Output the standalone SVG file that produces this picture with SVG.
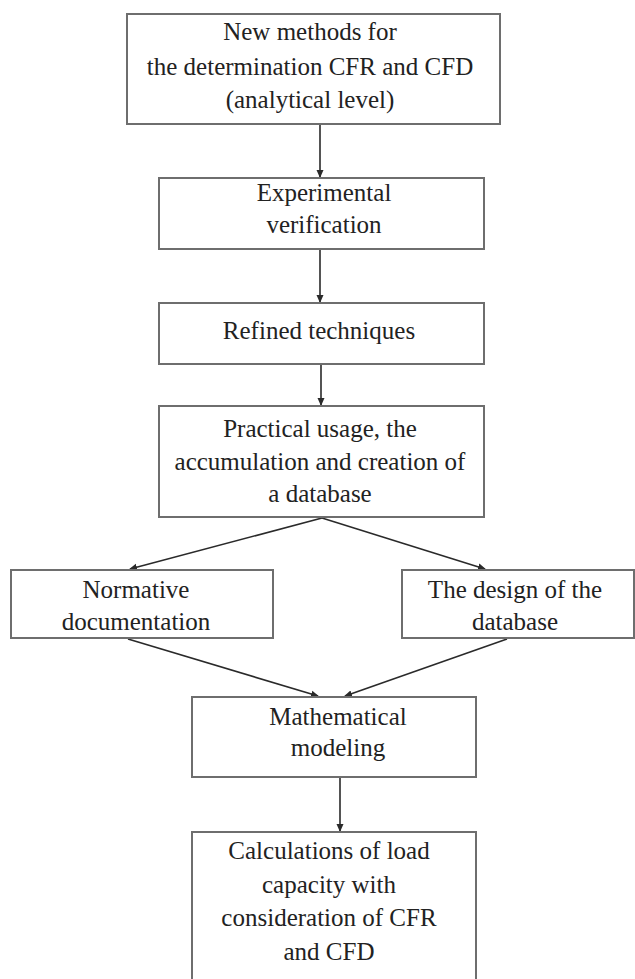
<svg xmlns="http://www.w3.org/2000/svg" width="635" height="979" viewBox="0 0 635 979">
<defs>
<style>
.box{fill:#ffffff;stroke:#6e6e6e;stroke-width:2}
.t{font-family:"Liberation Serif","Times New Roman",serif;font-size:25px;fill:#222222;text-anchor:middle}
.c{stroke:#2a2a2a;stroke-width:1.6;fill:none;marker-end:url(#ah)}
</style>
<marker id="ah" markerWidth="8" markerHeight="8" refX="7" refY="4" orient="auto" markerUnits="userSpaceOnUse">
<path d="M0,0.5 L8,4 L0,7.5 Z" fill="#2a2a2a"/>
</marker>
</defs>
<rect width="635" height="979" fill="#ffffff"/>
<g id="connectors">
<line class="c" x1="320" y1="125" x2="320" y2="177"/>
<line class="c" x1="320" y1="250" x2="320" y2="302"/>
<line class="c" x1="321" y1="365" x2="321" y2="405"/>
<line class="c" x1="322" y1="518" x2="130" y2="569"/>
<line class="c" x1="322" y1="518" x2="485" y2="569"/>
<line class="c" x1="128" y1="639" x2="318" y2="696"/>
<line class="c" x1="507" y1="639" x2="345" y2="696"/>
<line class="c" x1="340" y1="778" x2="340" y2="831"/>
</g>
<g id="n1">
<rect class="box" x="127" y="14" width="373" height="110"/>
<text class="t" x="310" y="40">New methods for</text>
<text class="t" x="310" y="75">the determination  CFR and CFD</text>
<text class="t" x="310" y="108">(analytical  level)</text>
</g>
<g id="n2">
<rect class="box" x="159" y="178" width="325" height="71"/>
<text class="t" x="324" y="201">Experimental</text>
<text class="t" x="324" y="233">verification</text>
</g>
<g id="n3">
<rect class="box" x="159" y="303" width="325" height="61"/>
<text class="t" x="319" y="339">Refined  techniques</text>
</g>
<g id="n4">
<rect class="box" x="159" y="406" width="325" height="111"/>
<text class="t" x="320" y="437">Practical  usage, the</text>
<text class="t" x="320" y="470">accumulation  and creation of</text>
<text class="t" x="320" y="502">a database</text>
</g>
<g id="n5">
<rect class="box" x="11" y="570" width="262" height="68"/>
<text class="t" x="136" y="598">Normative</text>
<text class="t" x="136" y="630">documentation</text>
</g>
<g id="n6">
<rect class="box" x="402" y="570" width="232" height="68"/>
<text class="t" x="515" y="598">The design of the</text>
<text class="t" x="515" y="630">database</text>
</g>
<g id="n7">
<rect class="box" x="192" y="697" width="284" height="80"/>
<text class="t" x="338" y="725">Mathematical</text>
<text class="t" x="338" y="756">modeling</text>
</g>
<g id="n8">
<rect class="box" x="192" y="832" width="284" height="160"/>
<text class="t" x="329" y="859">Calculations  of load</text>
<text class="t" x="329" y="893">capacity  with</text>
<text class="t" x="329" y="926">consideration  of CFR</text>
<text class="t" x="329" y="960">and CFD</text>
</g>
</svg>
